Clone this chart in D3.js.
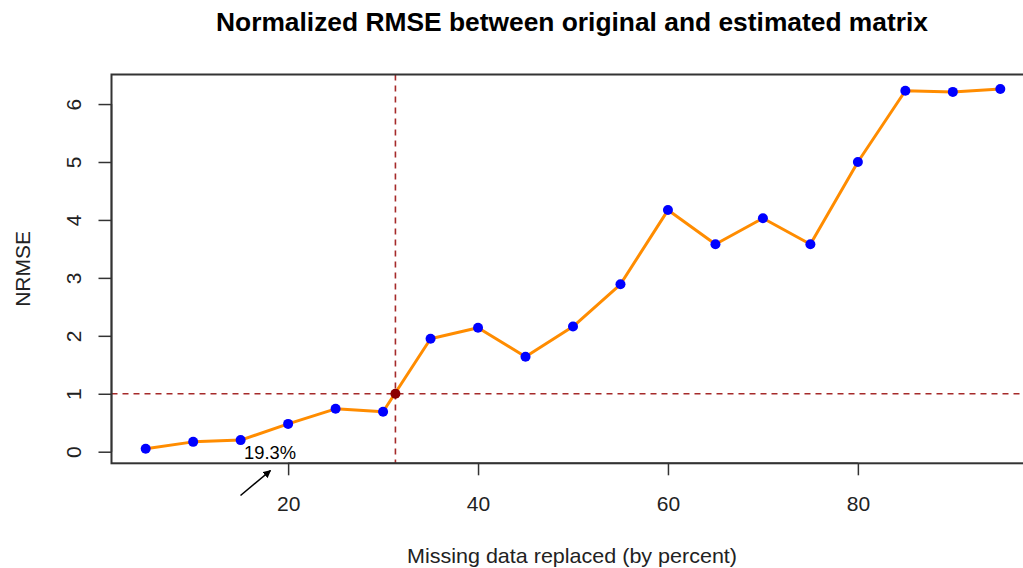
<!DOCTYPE html>
<html>
<head>
<meta charset="utf-8">
<script src="https://cdn.jsdelivr.net/npm/d3@7/dist/d3.min.js"></script>
<style>
  html, body { margin: 0; padding: 0; background: #fff; overflow: hidden; }
  svg { display: block; }
  text { font-family: "Liberation Sans", Arial, sans-serif; }
</style>
</head>
<body>
<svg id="chart" width="1023" height="568"></svg>
<script>
// Percentage of entries replaced with missing values
const missingPct = [5, 10, 15, 20, 25, 30, 35, 40, 45, 50, 55, 60, 65, 70, 75, 80, 85, 90, 95];
// Normalized RMSE for each level
const nrmse = [0.05, 0.17, 0.20, 0.48, 0.74, 0.69, 1.95, 2.14, 1.64, 2.16, 2.89, 4.17, 3.58, 4.03, 3.58, 5.00, 6.23, 6.21, 6.26];
// Cut-off where NRMSE reaches 1
const cutoff = { x: 31.3, y: 1 };
const xTicks = [20, 40, 60, 80];
const yTicks = [0, 1, 2, 3, 4, 5, 6];
const titleText = "Normalized RMSE between original and estimated matrix";
const xLabel = "Missing data replaced (by percent)";
const yLabel = "NRMSE";
const noteText = "19.3%";

const svg = d3.select("#chart");
const box = { left: 111.5, right: 1034.5, top: 74.5, bottom: 463.3 };

// R-style 4% padding around the data range
const xs = d3.scaleLinear().domain([1.4, 98.6]).range([box.left, box.right]);
const ys = d3.scaleLinear().domain([-0.2, 6.51]).range([box.bottom, box.top]);

// Title
svg.append("text")
  .attr("x", (box.left + box.right) / 2 - 1)
  .attr("y", 31)
  .attr("text-anchor", "middle")
  .attr("font-weight", "bold")
  .attr("font-size", 25)
  .attr("textLength", 712)
  .attr("lengthAdjust", "spacingAndGlyphs")
  .attr("fill", "#000")
  .text(titleText);

// Reference lines
const refColor = "#a52a2a";
svg.append("line")
  .attr("x1", box.left).attr("x2", box.right)
  .attr("y1", ys(cutoff.y)).attr("y2", ys(cutoff.y))
  .attr("stroke", refColor).attr("stroke-width", 1.6)
  .attr("stroke-dasharray", "6,5");
svg.append("line")
  .attr("x1", xs(cutoff.x)).attr("x2", xs(cutoff.x))
  .attr("y1", box.top).attr("y2", box.bottom)
  .attr("stroke", refColor).attr("stroke-width", 1.6)
  .attr("stroke-dasharray", "6,5");

// Series line
const pts = missingPct.map((x, i) => ({ x, y: nrmse[i] }));
svg.append("path")
  .datum(pts)
  .attr("fill", "none")
  .attr("stroke", "#ff8c00")
  .attr("stroke-width", 3)
  .attr("stroke-linejoin", "round")
  .attr("d", d3.line().x(d => xs(d.x)).y(d => ys(d.y)));

// Points
svg.append("g").selectAll("circle")
  .data(pts)
  .join("circle")
  .attr("cx", d => xs(d.x))
  .attr("cy", d => ys(d.y))
  .attr("r", 5)
  .attr("fill", "#0000ff");

// Cut-off marker
svg.append("circle")
  .attr("cx", xs(cutoff.x)).attr("cy", ys(cutoff.y))
  .attr("r", 5)
  .attr("fill", "#8b0000");

// Plot frame
svg.append("rect")
  .attr("x", box.left).attr("y", box.top)
  .attr("width", box.right - box.left).attr("height", box.bottom - box.top)
  .attr("fill", "none").attr("stroke", "#333").attr("stroke-width", 2);

// Axes
const xAxis = svg.append("g")
  .attr("transform", `translate(0,${box.bottom})`)
  .call(d3.axisBottom(xs).tickValues(xTicks).tickFormat(d3.format("d"))
    .tickSize(12).tickSizeOuter(0).tickPadding(21));
xAxis.select(".domain").attr("d", `M${xs(xTicks[0])},0H${xs(xTicks[xTicks.length - 1])}`)
  .attr("stroke", "#333").attr("stroke-width", 1.5);
xAxis.selectAll(".tick line").attr("stroke", "#333").attr("stroke-width", 1.5);
xAxis.selectAll(".tick text")
  .attr("font-size", 21)
  .attr("font-family", "Liberation Sans, Arial, sans-serif")
  .attr("fill", "#222");

const yAxis = svg.append("g")
  .attr("transform", `translate(${box.left},0)`)
  .call(d3.axisLeft(ys).tickValues(yTicks).tickFormat(d3.format("d"))
    .tickSize(13).tickSizeOuter(0));
yAxis.select(".domain").attr("d", `M0,${ys(yTicks[0])}V${ys(yTicks[yTicks.length - 1])}`)
  .attr("stroke", "#333").attr("stroke-width", 1.5);
yAxis.selectAll(".tick line").attr("stroke", "#333").attr("stroke-width", 1.5);
yAxis.selectAll(".tick text")
  .attr("font-size", 21)
  .attr("font-family", "Liberation Sans, Arial, sans-serif")
  .attr("fill", "#222")
  .attr("text-anchor", "middle")
  .attr("dy", null)
  .attr("x", null)
  .attr("transform", "translate(-38,0) rotate(-90)")
  .attr("dominant-baseline", "central");

// Axis titles
svg.append("text")
  .attr("x", (box.left + box.right) / 2 - 1)
  .attr("y", 563)
  .attr("text-anchor", "middle")
  .attr("font-size", 21)
  .attr("textLength", 330)
  .attr("lengthAdjust", "spacingAndGlyphs")
  .attr("fill", "#222")
  .text(xLabel);

svg.append("text")
  .attr("transform", `translate(30,${(box.top + box.bottom) / 2}) rotate(-90)`)
  .attr("text-anchor", "middle")
  .attr("font-size", 21)
  .attr("fill", "#222")
  .text(yLabel);

// Annotation with arrow
const defs = svg.append("defs");
defs.append("marker")
  .attr("id", "arrowhead")
  .attr("viewBox", "0 0 10 10")
  .attr("refX", 9).attr("refY", 5)
  .attr("markerWidth", 5).attr("markerHeight", 5)
  .attr("orient", "auto")
  .append("path").attr("d", "M0,0L10,5L0,10z").attr("fill", "#000");

svg.append("text")
  .attr("x", 244)
  .attr("y", 459)
  .attr("font-family", "Carlito, Calibri, 'Liberation Sans', sans-serif")
  .attr("font-size", 19)
  .attr("textLength", 52)
  .attr("lengthAdjust", "spacingAndGlyphs")
  .attr("fill", "#000")
  .text(noteText);

svg.append("line")
  .attr("x1", 240.5).attr("y1", 495.5)
  .attr("x2", 270.5).attr("y2", 470.5)
  .attr("stroke", "#000").attr("stroke-width", 1.6)
  .attr("marker-end", "url(#arrowhead)");
</script>
</body>
</html>
